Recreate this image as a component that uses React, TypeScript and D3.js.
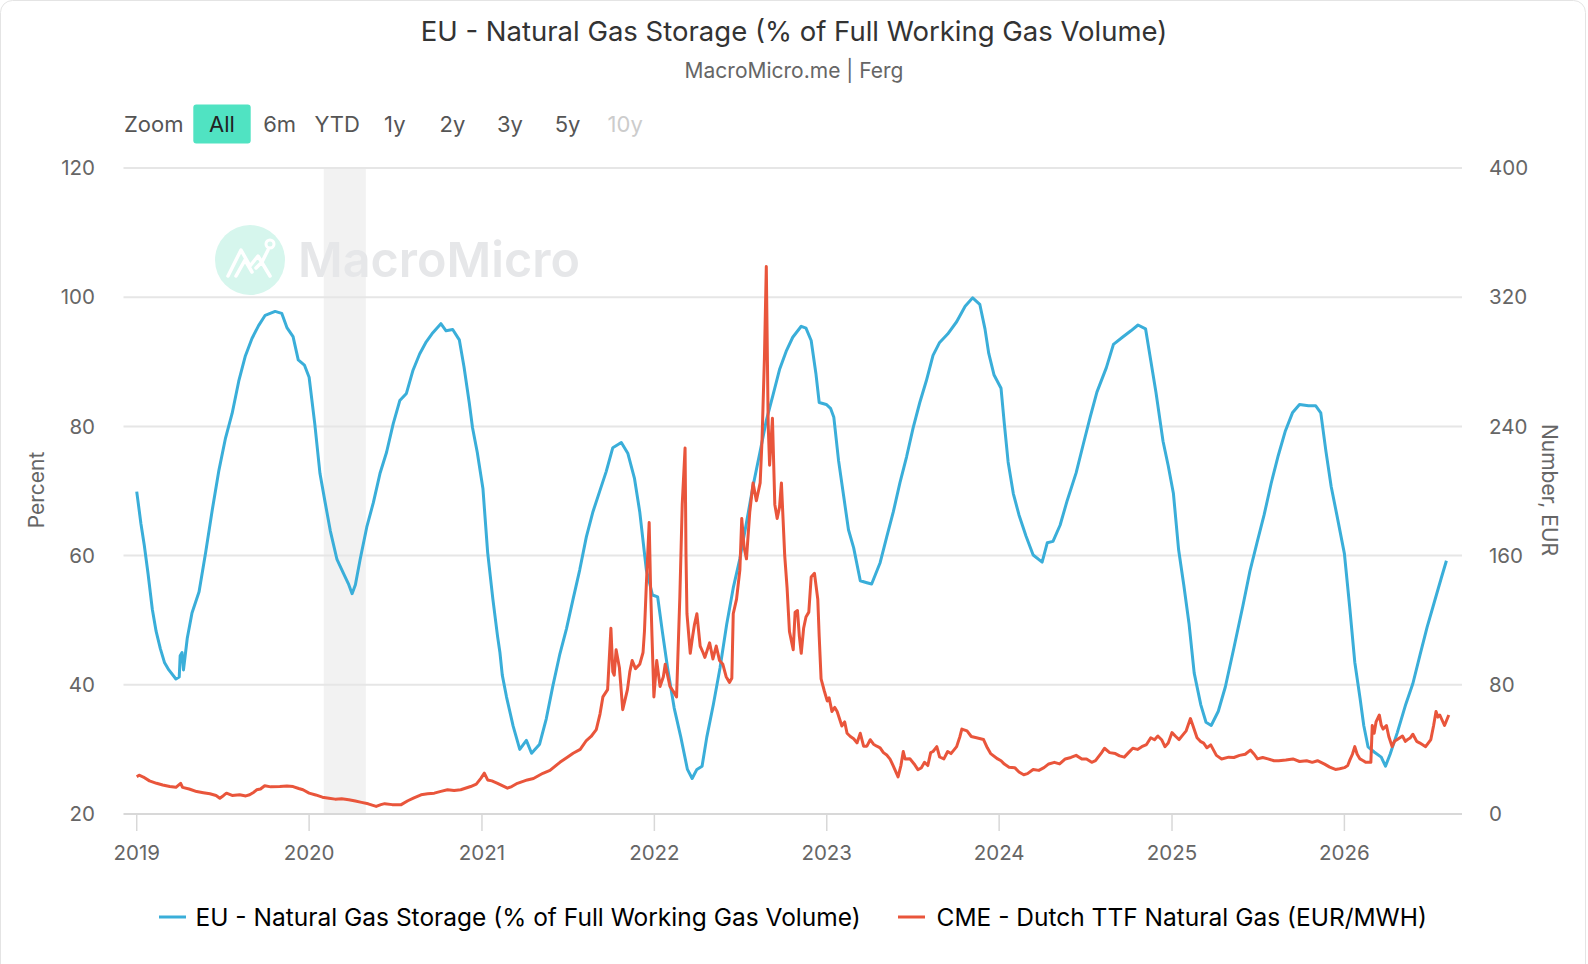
import * as d3 from 'd3';

// Chart values
const yearTicks = [2019, 2020, 2021, 2022, 2023, 2024, 2025, 2026];
const leftTicks = [20, 40, 60, 80, 100, 120];
const rightTicks = [0, 80, 160, 240, 320, 400];
const zoomButtons = ['All', '6m', 'YTD', '1y', '2y', '3y', '5y', '10y'];
const recessionBand = ['2020-02-01', '2020-04-30'];

const storage2019: [string, number][] = [
  ['2019-01-01', 69.9], ['2019-01-10', 64.9], ['2019-01-17', 61.6], ['2019-01-25', 57.2], ['2019-02-03', 51.7],
  ['2019-02-11', 48.3], ['2019-02-20', 45.6], ['2019-03-01', 43.4], ['2019-03-10', 42.3], ['2019-03-25', 40.9],
  ['2019-04-01', 41.2], ['2019-04-03', 44.5], ['2019-04-07', 45], ['2019-04-10', 42.3], ['2019-04-18', 47.2],
  ['2019-04-28', 51.1], ['2019-05-13', 54.4], ['2019-05-27', 60.5], ['2019-06-10', 67.1], ['2019-06-24', 73.2],
  ['2019-07-08', 78.2], ['2019-07-22', 82], ['2019-08-05', 87], ['2019-08-19', 90.9], ['2019-09-02', 93.6],
  ['2019-09-16', 95.6], ['2019-09-30', 97.2], ['2019-10-21', 97.8], ['2019-11-04', 97.5], ['2019-11-15', 95.3],
  ['2019-11-28', 93.9], ['2019-12-09', 90.3], ['2019-12-22', 89.5],
];
const storage2020: [string, number][] = [
  ['2020-01-01', 87.6], ['2020-01-13', 80.4], ['2020-01-24', 72.7], ['2020-02-04', 68.2], ['2020-02-15', 63.8],
  ['2020-02-29', 59.4], ['2020-03-14', 57.2], ['2020-03-25', 55.5], ['2020-04-01', 54.1], ['2020-04-08', 55.5],
  ['2020-04-18', 59.4], ['2020-05-02', 64.4], ['2020-05-16', 68.2], ['2020-05-30', 72.7], ['2020-06-13', 76],
  ['2020-06-27', 80.4], ['2020-07-11', 84], ['2020-07-25', 85.1], ['2020-08-08', 88.7], ['2020-08-22', 91.2],
  ['2020-09-05', 93.1], ['2020-09-19', 94.5], ['2020-10-06', 95.9], ['2020-10-17', 94.8], ['2020-10-31', 95],
  ['2020-11-14', 93.4], ['2020-11-24', 89.2], ['2020-12-05', 83.7], ['2020-12-12', 79.8], ['2020-12-22', 76],
];
const storage2021: [string, number][] = [
  ['2021-01-03', 70.4], ['2021-01-13', 60.5], ['2021-01-24', 53.3], ['2021-02-03', 47.5], ['2021-02-08', 45],
  ['2021-02-13', 41.5], ['2021-02-22', 38.1], ['2021-03-08', 33.6], ['2021-03-22', 30], ['2021-04-05', 31.4],
  ['2021-04-16', 29.4], ['2021-05-03', 30.8], ['2021-05-17', 34.7], ['2021-05-31', 39.8], ['2021-06-15', 44.8],
  ['2021-06-29', 48.7], ['2021-07-13', 53.3], ['2021-07-27', 57.8], ['2021-08-10', 62.9], ['2021-08-24', 66.8],
  ['2021-09-07', 69.9], ['2021-09-21', 73], ['2021-10-05', 76.7], ['2021-10-23', 77.5], ['2021-11-06', 75.8],
  ['2021-11-20', 71.9], ['2021-12-01', 66.8], ['2021-12-15', 57.8], ['2021-12-28', 53.9],
];
const storage2022: [string, number][] = [
  ['2022-01-08', 53.6], ['2022-01-18', 48.2], ['2022-01-29', 42.6], ['2022-02-12', 36.4], ['2022-02-26', 31.9],
  ['2022-03-12', 26.9], ['2022-03-22', 25.5], ['2022-04-01', 26.9], ['2022-04-12', 27.4], ['2022-04-22', 31.9],
  ['2022-05-06', 37], ['2022-05-20', 42.6], ['2022-06-03', 49.3], ['2022-06-17', 55], ['2022-07-01', 59.5],
  ['2022-07-15', 65.1], ['2022-07-29', 70.8], ['2022-08-12', 75.8], ['2022-08-26', 80.9], ['2022-09-09', 84.8],
  ['2022-09-23', 88.8], ['2022-10-07', 91.6], ['2022-10-21', 93.8], ['2022-11-08', 95.5], ['2022-11-18', 95.2],
  ['2022-11-29', 93.3], ['2022-12-09', 88.2], ['2022-12-16', 83.7], ['2022-12-31', 83.4],
];
const storage2023: [string, number][] = [
  ['2023-01-09', 82.8], ['2023-01-16', 81.4], ['2023-01-26', 74.7], ['2023-02-06', 69.1], ['2023-02-16', 64],
  ['2023-02-27', 61.2], ['2023-03-13', 56.1], ['2023-03-27', 55.8], ['2023-04-06', 55.6], ['2023-04-24', 58.9],
  ['2023-05-08', 62.9], ['2023-05-22', 66.8], ['2023-06-05', 71.3], ['2023-06-19', 75.3], ['2023-07-03', 79.8],
  ['2023-07-17', 83.7], ['2023-07-31', 87.1], ['2023-08-14', 91], ['2023-08-28', 93], ['2023-09-14', 94.3],
  ['2023-10-03', 96.2], ['2023-10-21', 98.6], ['2023-11-06', 99.9], ['2023-11-21', 98.9], ['2023-12-02', 95.1],
  ['2023-12-10', 91.3], ['2023-12-21', 88],
];
const storage2024: [string, number][] = [
  ['2024-01-05', 85.9], ['2024-01-12', 80.4], ['2024-01-20', 74.5], ['2024-01-31', 69.6], ['2024-02-12', 66.3],
  ['2024-02-27', 63], ['2024-03-13', 60.1], ['2024-04-01', 59], ['2024-04-12', 62], ['2024-04-24', 62.2],
  ['2024-05-09', 64.7], ['2024-05-24', 68.5], ['2024-06-12', 72.8], ['2024-06-27', 77.2], ['2024-07-12', 81.5],
  ['2024-07-26', 85.3], ['2024-08-15', 89.1], ['2024-08-30', 92.7], ['2024-09-18', 93.8], ['2024-10-06', 94.8],
  ['2024-10-21', 95.7], ['2024-11-06', 95.1], ['2024-11-17', 90.2], ['2024-11-28', 85.3], ['2024-12-13', 77.7],
  ['2024-12-24', 73.9],
];
const storage2025: [string, number][] = [
  ['2025-01-04', 69.6], ['2025-01-15', 60.9], ['2025-01-26', 55.4], ['2025-02-06', 49.5], ['2025-02-17', 41.8],
  ['2025-03-03', 36.9], ['2025-03-14', 34.2], ['2025-03-25', 33.7], ['2025-04-09', 35.9], ['2025-04-24', 39.7],
  ['2025-05-12', 45.7], ['2025-05-31', 52.2], ['2025-06-15', 57.6], ['2025-06-30', 62], ['2025-07-15', 66.3],
  ['2025-07-30', 71.2], ['2025-08-14', 75.5], ['2025-08-29', 79.3], ['2025-09-13', 82.1], ['2025-09-28', 83.4],
  ['2025-10-17', 83.2], ['2025-11-01', 83.2], ['2025-11-12', 82.1], ['2025-11-23', 76.1], ['2025-12-04', 70.7],
  ['2025-12-16', 66.3],
];
const storage2026: [string, number][] = [
  ['2026-01-01', 60.3], ['2026-01-12', 52.2], ['2026-01-23', 43.5], ['2026-02-03', 38], ['2026-02-11', 33.7],
  ['2026-02-20', 30.4], ['2026-03-05', 29.6], ['2026-03-20', 28.8], ['2026-03-29', 27.4], ['2026-04-08', 29.3],
  ['2026-04-23', 32.6], ['2026-05-11', 37], ['2026-05-26', 40.2], ['2026-06-10', 44.6], ['2026-06-25', 48.9],
  ['2026-07-10', 52.7], ['2026-07-25', 56.5], ['2026-08-05', 59.2],
];

const ttf2019: [string, number][] = [
  ['2019-01-01', 23.1], ['2019-01-06', 24], ['2019-01-15', 22.9], ['2019-01-28', 20.5], ['2019-02-12', 19],
  ['2019-02-25', 18], ['2019-03-12', 17], ['2019-03-25', 16.5], ['2019-04-04', 19], ['2019-04-08', 16.5],
  ['2019-04-22', 15.5], ['2019-05-08', 13.9], ['2019-05-22', 13.2], ['2019-06-05', 12.5], ['2019-06-18', 11.5],
  ['2019-06-26', 9.8], ['2019-07-04', 11.5], ['2019-07-10', 12.9], ['2019-07-22', 11.5], ['2019-08-07', 11.9],
  ['2019-08-20', 11.2], ['2019-08-28', 11.9], ['2019-09-06', 13.5], ['2019-09-12', 15], ['2019-09-20', 15.5],
  ['2019-09-29', 17.5], ['2019-10-12', 16.8], ['2019-10-31', 17], ['2019-11-15', 17.4], ['2019-11-28', 17],
  ['2019-12-10', 15.8], ['2019-12-19', 15],
];
const ttf2020: [string, number][] = [
  ['2020-01-01', 12.9], ['2020-01-15', 11.8], ['2020-01-29', 10.4], ['2020-02-12', 9.8], ['2020-02-25', 9.2],
  ['2020-03-10', 9.4], ['2020-03-25', 8.8], ['2020-04-08', 8], ['2020-04-21', 7.2], ['2020-05-05', 6.3],
  ['2020-05-22', 4.7], ['2020-06-01', 5.8], ['2020-06-09', 6.4], ['2020-06-25', 5.8], ['2020-07-14', 5.8],
  ['2020-07-28', 8.2], ['2020-08-10', 10], ['2020-08-25', 11.9], ['2020-09-08', 12.5], ['2020-09-22', 12.9],
  ['2020-10-06', 14], ['2020-10-20', 15], ['2020-11-03', 14.5], ['2020-11-17', 15], ['2020-12-08', 17],
  ['2020-12-20', 18.5], ['2020-12-30', 22.2],
];
const ttf2021: [string, number][] = [
  ['2021-01-06', 25.3], ['2021-01-13', 21.1], ['2021-01-22', 20.5], ['2021-02-03', 19], ['2021-02-24', 16],
  ['2021-03-05', 17], ['2021-03-17', 19], ['2021-04-07', 21.1], ['2021-04-20', 22], ['2021-05-10', 25.2],
  ['2021-05-25', 27], ['2021-06-15', 32], ['2021-06-30', 35], ['2021-07-13', 37.6], ['2021-07-28', 40],
  ['2021-08-10', 45.5], ['2021-08-20', 48], ['2021-08-31', 52.2], ['2021-09-08', 62], ['2021-09-14', 72.5],
  ['2021-09-24', 77], ['2021-10-01', 115], ['2021-10-05', 88], ['2021-10-08', 86], ['2021-10-12', 101.7],
  ['2021-10-19', 90.5], ['2021-10-26', 64.6], ['2021-11-01', 72], ['2021-11-05', 77], ['2021-11-10', 88],
  ['2021-11-15', 95], ['2021-11-22', 90], ['2021-12-01', 92.7], ['2021-12-08', 100], ['2021-12-11', 113],
  ['2021-12-15', 142], ['2021-12-21', 180.5], ['2021-12-24', 140], ['2021-12-27', 110], ['2021-12-31', 72.5],
];
const ttf2022: [string, number][] = [
  ['2022-01-06', 95], ['2022-01-13', 79], ['2022-01-20', 85], ['2022-01-24', 92.7], ['2022-02-03', 79],
  ['2022-02-10', 76], ['2022-02-17', 72.5], ['2022-02-24', 135], ['2022-03-01', 191.7], ['2022-03-07', 226.6],
  ['2022-03-09', 160], ['2022-03-11', 124], ['2022-03-18', 99.5], ['2022-03-23', 110], ['2022-03-27', 117.5],
  ['2022-04-01', 124], ['2022-04-08', 104], ['2022-04-14', 100], ['2022-04-18', 97], ['2022-04-28', 106],
  ['2022-05-05', 96], ['2022-05-12', 104], ['2022-05-19', 95], ['2022-05-26', 92.7], ['2022-06-02', 85],
  ['2022-06-09', 81.5], ['2022-06-14', 84], ['2022-06-17', 124], ['2022-06-24', 133], ['2022-07-01', 151],
  ['2022-07-05', 183], ['2022-07-10', 165], ['2022-07-15', 158], ['2022-07-22', 187], ['2022-07-29', 205],
  ['2022-08-05', 194], ['2022-08-13', 205], ['2022-08-17', 232], ['2022-08-22', 282], ['2022-08-26', 339],
  ['2022-08-30', 241], ['2022-09-02', 216], ['2022-09-08', 245], ['2022-09-13', 191.7], ['2022-09-18', 183],
  ['2022-09-23', 190], ['2022-09-27', 205], ['2022-10-04', 160], ['2022-10-09', 140], ['2022-10-14', 113],
  ['2022-10-22', 101.7], ['2022-10-26', 125], ['2022-10-31', 126], ['2022-11-04', 110], ['2022-11-08', 99.5],
  ['2022-11-13', 115], ['2022-11-18', 122], ['2022-11-24', 125], ['2022-11-29', 146.7], ['2022-12-06', 149],
  ['2022-12-13', 133], ['2022-12-16', 110], ['2022-12-20', 83.7], ['2022-12-27', 76],
];
const ttf2023: [string, number][] = [
  ['2023-01-02', 70], ['2023-01-06', 72], ['2023-01-12', 63.5], ['2023-01-18', 66], ['2023-01-23', 63.5],
  ['2023-02-02', 54.5], ['2023-02-08', 57], ['2023-02-13', 50], ['2023-02-20', 48], ['2023-02-27', 46.6],
  ['2023-03-06', 44], ['2023-03-13', 50], ['2023-03-20', 42], ['2023-03-27', 42], ['2023-04-03', 46],
  ['2023-04-10', 43.2], ['2023-04-17', 42], ['2023-04-24', 41], ['2023-05-01', 38], ['2023-05-08', 36.5],
  ['2023-05-15', 34], ['2023-05-22', 29.7], ['2023-06-01', 23], ['2023-06-07', 30], ['2023-06-12', 38.7],
  ['2023-06-16', 34], ['2023-06-26', 34.2], ['2023-07-05', 31], ['2023-07-13', 27.5], ['2023-07-20', 28.5],
  ['2023-07-27', 32], ['2023-08-03', 30], ['2023-08-09', 38], ['2023-08-14', 38.7], ['2023-08-22', 41.7],
  ['2023-08-28', 35.3], ['2023-09-06', 34.1], ['2023-09-14', 38.7], ['2023-09-21', 37.4], ['2023-10-03', 41.7],
  ['2023-10-10', 48], ['2023-10-14', 52.6], ['2023-10-25', 51.5], ['2023-11-03', 48], ['2023-11-14', 47.2],
  ['2023-11-29', 46.1], ['2023-12-07', 41], ['2023-12-14', 37.4], ['2023-12-29', 34.1],
];
const ttf2024: [string, number][] = [
  ['2024-01-05', 33], ['2024-01-12', 30.9], ['2024-01-22', 29], ['2024-02-03', 28.7], ['2024-02-12', 26],
  ['2024-02-22', 24.3], ['2024-03-01', 25], ['2024-03-13', 27.6], ['2024-03-25', 27], ['2024-04-05', 28.7],
  ['2024-04-15', 31], ['2024-04-27', 32], ['2024-05-08', 31], ['2024-05-20', 34.1], ['2024-06-01', 35],
  ['2024-06-12', 36.3], ['2024-06-24', 34], ['2024-07-04', 34.1], ['2024-07-15', 32], ['2024-07-23', 33],
  ['2024-08-05', 38], ['2024-08-11', 40.7], ['2024-08-22', 38], ['2024-09-03', 37.4], ['2024-09-12', 36],
  ['2024-09-22', 35.2], ['2024-10-01', 38], ['2024-10-10', 40.7], ['2024-10-20', 40], ['2024-10-29', 41.7],
  ['2024-11-08', 43], ['2024-11-17', 47.2], ['2024-11-25', 46], ['2024-12-02', 48.3], ['2024-12-10', 46],
  ['2024-12-17', 41.7], ['2024-12-24', 44],
];
const ttf2025: [string, number][] = [
  ['2025-01-01', 50.4], ['2025-01-09', 48], ['2025-01-16', 46.1], ['2025-01-24', 49], ['2025-01-31', 51.5],
  ['2025-02-09', 59.1], ['2025-02-14', 55], ['2025-02-23', 47.2], ['2025-03-02', 45], ['2025-03-09', 43.9],
  ['2025-03-16', 41], ['2025-03-24', 42.8], ['2025-04-05', 36.3], ['2025-04-16', 34.1], ['2025-05-01', 35.2],
  ['2025-05-12', 35], ['2025-05-24', 36.3], ['2025-06-05', 37], ['2025-06-16', 39.6], ['2025-06-24', 37],
  ['2025-07-01', 34.1], ['2025-07-12', 35], ['2025-07-23', 34.1], ['2025-08-05', 33], ['2025-08-15', 33],
  ['2025-08-30', 33.5], ['2025-09-14', 34.1], ['2025-09-28', 32.5], ['2025-10-13', 33], ['2025-10-25', 32],
  ['2025-11-05', 33], ['2025-11-20', 30.9], ['2025-12-01', 29], ['2025-12-13', 27.6], ['2025-12-22', 28],
];
const ttf2026: [string, number][] = [
  ['2026-01-01', 28.7], ['2026-01-08', 30], ['2026-01-12', 33], ['2026-01-18', 37], ['2026-01-23', 41.7],
  ['2026-01-28', 37], ['2026-02-03', 34.1], ['2026-02-10', 33], ['2026-02-15', 32], ['2026-02-26', 32],
  ['2026-03-01', 54.8], ['2026-03-05', 50], ['2026-03-09', 57], ['2026-03-16', 61.3], ['2026-03-20', 55],
  ['2026-03-24', 52.6], ['2026-03-31', 54.8], ['2026-04-05', 48], ['2026-04-12', 41.7], ['2026-04-17', 45],
  ['2026-04-23', 46.1], ['2026-05-04', 48.3], ['2026-05-10', 45], ['2026-05-15', 46.1], ['2026-05-20', 47],
  ['2026-05-26', 49.4], ['2026-06-03', 45], ['2026-06-10', 43.9], ['2026-06-22', 41.7], ['2026-07-03', 46.1],
  ['2026-07-09', 55], ['2026-07-14', 63.5], ['2026-07-18', 60], ['2026-07-22', 61.3], ['2026-08-01', 54.8],
  ['2026-08-10', 61.3],
];

const storageSeries = [storage2019, storage2020, storage2021, storage2022, storage2023, storage2024, storage2025, storage2026].flat();
const ttfSeries = [ttf2019, ttf2020, ttf2021, ttf2022, ttf2023, ttf2024, ttf2025, ttf2026].flat();

const W = 1588;
const H = 964;
const plot = { left: 123.5, right: 1462, top: 168, bottom: 814 };
const FONT = "Inter, 'Noto Sans', sans-serif";
const BLUE = '#3aaed9';
const RED = '#e9553b';

const parse = d3.timeParse('%Y-%m-%d');

export default function App() {
  const x = d3.scaleTime()
    .domain([parse('2018-12-04')!, parse('2026-09-07')!])
    .range([plot.left, plot.right]);
  const yLeft = d3.scaleLinear().domain([20, 120]).range([plot.bottom, plot.top]);
  const yRight = d3.scaleLinear().domain([0, 400]).range([plot.bottom, plot.top]);

  const storageLine = d3.line<[string, number]>()
    .x(d => x(parse(d[0])!))
    .y(d => yLeft(d[1]));
  const ttfLine = d3.line<[string, number]>()
    .x(d => x(parse(d[0])!))
    .y(d => yRight(d[1]));

  const bandX0 = x(parse(recessionBand[0])!);
  const bandX1 = x(parse(recessionBand[1])!);

  return (
    <div style={{ width: W, height: H }}>
      <style>{'body{margin:0;}'}</style>
      <svg width={W} height={H} style={{ display: 'block', fontFamily: FONT }}>
        <rect x={0.5} y={0.5} width={W - 3} height={H + 20} rx={12} fill="#fff" stroke="#e4e4e4" />

        {/* title */}
        <text x={W / 2} y={40.5} textAnchor="middle" fontSize={27.5} fill="#333">
          EU - Natural Gas Storage (% of Full Working Gas Volume)
        </text>
        <text x={W / 2} y={77.5} textAnchor="middle" fontSize={21} fill="#666">
          MacroMicro.me | Ferg
        </text>

        {/* range selector */}
        <text x={124} y={124} dy="0.35em" fontSize={22} fill="#555">Zoom</text>
        {zoomButtons.map((b, i) => {
          const cx = 222 + i * 57.6;
          return (
            <g key={b}>
              {i === 0 && <rect x={cx - 28.7} y={104.5} width={57.4} height={39} rx={3} fill="#50e3c2" />}
              <text x={cx} y={124} dy="0.35em" textAnchor="middle" fontSize={22}
                fill={b === '10y' ? '#cccccc' : i === 0 ? '#222' : '#555'}>{b}</text>
            </g>
          );
        })}

        {/* recession band */}
        <rect x={bandX0} y={plot.top} width={bandX1 - bandX0} height={plot.bottom - plot.top} fill="#f2f2f2" />

        {/* watermark */}
        <g>
          <circle cx={250} cy={260} r={35} fill="#d6f6ed" />
          <path d="M228,276 L241,250 L250,266 L258,256 L270,276 M236,276 L245,260 L252,272 M256,268 L262,262 L268,250"
            fill="none" stroke="#fff" strokeWidth={3.5} strokeLinejoin="round" strokeLinecap="round" />
          <circle cx={270} cy={244} r={4} fill="none" stroke="#fff" strokeWidth={3} />
          <text x={298} y={277} fontSize={48.5} fontWeight={600} fill="#e6e7e9">MacroMicro</text>
        </g>

        {/* grid */}
        {leftTicks.map(t => (
          <line key={t} x1={plot.left} x2={plot.right} y1={yLeft(t)} y2={yLeft(t)}
            stroke={t === 20 ? '#d8d8d8' : '#e6e6e6'} strokeWidth={2} />
        ))}

        {/* x axis ticks */}
        {yearTicks.map(yr => {
          const xp = x(new Date(yr, 0, 1));
          return (
            <g key={yr}>
              <line x1={xp} x2={xp} y1={plot.bottom} y2={plot.bottom + 17} stroke="#d8d8d8" strokeWidth={1.5} />
              <text x={xp} y={859.5} textAnchor="middle" fontSize={20.5} fill="#666">{yr}</text>
            </g>
          );
        })}

        {/* left axis labels */}
        {leftTicks.map(t => (
          <text key={t} x={95} y={yLeft(t)} dy="0.35em" textAnchor="end" fontSize={20.5} fill="#666">{t}</text>
        ))}
        {/* right axis labels */}
        {rightTicks.map(t => (
          <text key={t} x={1489} y={yRight(t)} dy="0.35em" textAnchor="start" fontSize={20.5} fill="#666">{t}</text>
        ))}

        <text transform="translate(36.5,490) rotate(-90)" dy="0.35em" textAnchor="middle" fontSize={21} fill="#666">
          Percent
        </text>
        <text transform="translate(1549.6,490) rotate(90)" dy="0.35em" textAnchor="middle" fontSize={21} fill="#666">
          Number, EUR
        </text>

        {/* series */}
        <path d={storageLine(storageSeries) ?? ''} fill="none" stroke={BLUE} strokeWidth={3} strokeLinejoin="round" />
        <path d={ttfLine(ttfSeries) ?? ''} fill="none" stroke={RED} strokeWidth={3} strokeLinejoin="round" />

        {/* legend */}
        <line x1={159} x2={186} y1={917} y2={917} stroke={BLUE} strokeWidth={3} />
        <text x={195.5} y={917} dy="0.35em" fontSize={24.5} fill="#000">
          EU - Natural Gas Storage (% of Full Working Gas Volume)
        </text>
        <line x1={898} x2={925} y1={917} y2={917} stroke={RED} strokeWidth={3} />
        <text x={936.5} y={917} dy="0.35em" fontSize={24.5} fill="#000">
          CME - Dutch TTF Natural Gas (EUR/MWH)
        </text>
      </svg>
    </div>
  );
}
